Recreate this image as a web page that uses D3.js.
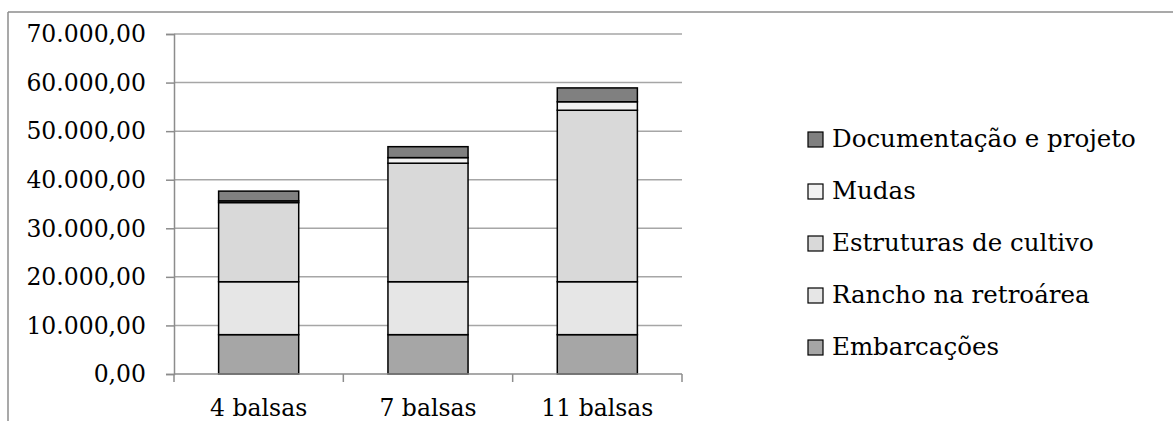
<!DOCTYPE html>
<html>
<head>
<meta charset="utf-8">
<script src="https://cdn.jsdelivr.net/npm/d3@7"></script>
<style>
  html, body { margin: 0; padding: 0; background: #fff; }
  svg { display: block; }
  text { font-family: "DejaVu Serif", "Liberation Serif", serif; fill: #000; }
</style>
</head>
<body>
<svg id="chart" width="1173" height="421"></svg>
<script>
// Cost categories (x axis)
const categories = ["4 balsas", "7 balsas", "11 balsas"];

// Stacked series, bottom to top
const seriesNames = ["Embarcações", "Rancho na retroárea", "Estruturas de cultivo", "Mudas", "Documentação e projeto"];
const embarcacoes = [8100, 8100, 8100];
const rancho = [10900, 10900, 10900];
const estruturas = [16300, 24400, 35300];
const mudas = [350, 1150, 1750];
const documentacao = [2000, 2250, 2850];

const yTicks = [0, 10000, 20000, 30000, 40000, 50000, 60000, 70000];
const seriesColors = ["#a6a6a6", "#e6e6e6", "#d9d9d9", "#f2f2f2", "#808080"];

const rows = categories.map((c, i) => ({
  cat: c,
  "Embarcações": embarcacoes[i],
  "Rancho na retroárea": rancho[i],
  "Estruturas de cultivo": estruturas[i],
  "Mudas": mudas[i],
  "Documentação e projeto": documentacao[i]
}));

const svg = d3.select("#chart");
const fontSize = 23.5;

// Outer frame (top and left edges visible)
svg.append("line").attr("x1", 8).attr("x2", 1173).attr("y1", 12).attr("y2", 12)
  .attr("stroke", "#8c8c8c").attr("stroke-width", 1.5);
svg.append("line").attr("x1", 8).attr("x2", 8).attr("y1", 12).attr("y2", 421)
  .attr("stroke", "#8c8c8c").attr("stroke-width", 1.5);

const plot = { left: 174, right: 682, top: 34, bottom: 374 };

const x = d3.scaleBand().domain(categories).range([plot.left, plot.right]).paddingInner(0.527).paddingOuter(0.2635);
const xOuter = d3.scaleBand().domain(categories).range([plot.left, plot.right]);
const y = d3.scaleLinear().domain([0, 70000]).range([plot.bottom, plot.top]);

const fmt = v => {
  const s = d3.format(",.2f")(v);
  return s.replace(/,/g, "#").replace(/\./g, ",").replace(/#/g, ".");
};

// Horizontal gridlines
svg.append("g").selectAll("line").data(yTicks.filter(t => t > 0)).join("line")
  .attr("x1", plot.left).attr("x2", plot.right)
  .attr("y1", d => y(d)).attr("y2", d => y(d))
  .attr("stroke", "#a6a6a6").attr("stroke-width", 1.5);

// Y axis
const yAxis = svg.append("g").attr("transform", `translate(${plot.left},0)`)
  .call(d3.axisLeft(y).tickValues(yTicks).tickFormat(fmt).tickSize(8).tickPadding(20));
yAxis.select(".domain").attr("stroke", "#8c8c8c").attr("stroke-width", 1.5);
yAxis.selectAll(".tick line").attr("stroke", "#8c8c8c").attr("stroke-width", 1.5);
yAxis.selectAll("text").attr("font-size", fontSize).attr("font-family", "DejaVu Serif").attr("fill", "#000")
  .attr("dy", "0.33em");

// Stacked bars
const stack = d3.stack().keys(seriesNames);
const layers = stack(rows);
svg.append("g").selectAll("g").data(layers).join("g")
  .attr("fill", (d, i) => seriesColors[i])
  .selectAll("rect").data(d => d).join("rect")
  .attr("x", d => x(d.data.cat))
  .attr("width", x.bandwidth())
  .attr("y", d => y(d[1]))
  .attr("height", d => y(d[0]) - y(d[1]))
  .attr("stroke", "#000").attr("stroke-width", 1.5);

// X axis
const xAxis = svg.append("g").attr("transform", `translate(0,${plot.bottom})`)
  .call(d3.axisBottom(xOuter).tickSize(0));
xAxis.select(".domain").remove();
xAxis.selectAll("text").attr("font-size", fontSize).attr("font-family", "DejaVu Serif").attr("fill", "#000")
  .attr("y", 42).attr("dy", 0);
svg.append("line").attr("x1", plot.left).attr("x2", plot.right).attr("y1", plot.bottom).attr("y2", plot.bottom)
  .attr("stroke", "#8c8c8c").attr("stroke-width", 1.5);
const boundaries = [plot.left, ...categories.map(c => xOuter(c) + xOuter.bandwidth())];
svg.append("g").selectAll("line").data(boundaries).join("line")
  .attr("x1", d => d).attr("x2", d => d)
  .attr("y1", plot.bottom).attr("y2", plot.bottom + 8)
  .attr("stroke", "#8c8c8c").attr("stroke-width", 1.5);

// Legend, top entry is the top of the stack
const legendItems = seriesNames.map((n, i) => ({ name: n, color: seriesColors[i] })).reverse();
const legend = svg.append("g").attr("transform", "translate(808,147)");
const entry = legend.selectAll("g").data(legendItems).join("g")
  .attr("transform", (d, i) => `translate(0,${i * 52})`);
entry.append("rect").attr("x", 0).attr("y", -15).attr("width", 15).attr("height", 15)
  .attr("fill", d => d.color).attr("stroke", "#000").attr("stroke-width", 1.2);
entry.append("text").attr("x", 24).attr("y", 0).attr("font-size", 24.5).text(d => d.name);
</script>
</body>
</html>
